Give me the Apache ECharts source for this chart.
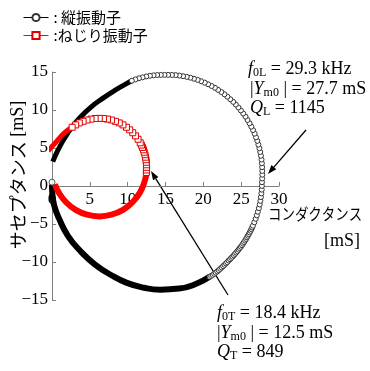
<!DOCTYPE html>
<html>
<head>
<meta charset="utf-8">
<script src="https://cdn.jsdelivr.net/npm/echarts@6/dist/echarts.min.js"></script>
<style>
  html, body { margin: 0; padding: 0; background: #fff; }
  #chart { width: 370px; height: 371px; }
</style>
</head>
<body>
<div id="chart"></div>
<script>
// Admittance loci (conductance G [mS], susceptance B [mS]) of two vibrators.

// Longitudinal vibrator: densely sampled stretches far from resonance
const longBandLow = [
  [0.00, 0.20], [0.05, -1.00], [0.30, -2.60], [0.95, -4.32], [2.10, -6.55],
  [3.75, -8.56], [5.65, -10.30], [7.80, -11.71], [9.90, -12.75], [12.15, -13.39],
  [14.30, -13.65], [16.80, -13.50], [19.00, -12.90], [20.83, -11.95]
];
// Longitudinal vibrator: sparse points around resonance
const longPoints = [
  [20.83, -11.95], [21.03, -11.83], [21.24, -11.70], [21.44, -11.55], [21.64, -11.40],
  [21.84, -11.24], [22.04, -11.08], [22.23, -10.90], [22.43, -10.72], [22.62, -10.55],
  [22.80, -10.37], [22.99, -10.19], [23.16, -10.02], [23.35, -9.81], [23.53, -9.64],
  [23.69, -9.47], [23.86, -9.30], [24.03, -9.12], [24.19, -8.93], [24.35, -8.75],
  [24.51, -8.56], [24.66, -8.37], [24.81, -8.18], [24.96, -7.99], [25.11, -7.79],
  [25.25, -7.59], [25.38, -7.38], [25.52, -7.18], [25.65, -6.97], [25.77, -6.76],
  [25.89, -6.55], [26.01, -6.34], [26.13, -6.12], [26.24, -5.90], [26.35, -5.68],
  [26.45, -5.46], [26.55, -5.23], [26.74, -4.78],
  [26.92, -4.32], [27.07, -3.86], [27.21, -3.39], [27.34, -2.91], [27.45, -2.43],
  [27.54, -1.95], [27.61, -1.46], [27.67, -0.97], [27.72, -0.48], [27.74, 0.01],
  [27.75, 0.50], [27.78, 0.99], [27.80, 1.49], [27.79, 1.98], [27.77, 2.48],
  [27.74, 2.99], [27.69, 3.48], [27.61, 3.98], [27.52, 4.48], [27.41, 4.97],
  [27.28, 5.45], [27.13, 5.94], [26.96, 6.41], [26.78, 6.89], [26.57, 7.35],
  [26.34, 7.81], [26.11, 8.26], [25.84, 8.69], [25.57, 9.13], [25.27, 9.54],
  [24.96, 9.94], [24.63, 10.33], [24.29, 10.72], [23.95, 11.07], [23.56, 11.42],
  [23.18, 11.75], [22.79, 12.07], [22.38, 12.37], [21.95, 12.65], [21.53, 12.92],
  [21.09, 13.16], [20.63, 13.39], [20.18, 13.60], [19.71, 13.79], [19.25, 13.96],
  [18.76, 14.11], [18.29, 14.25], [17.81, 14.36], [17.32, 14.45], [16.83, 14.53],
  [16.35, 14.59], [15.85, 14.61], [15.35, 14.62], [14.86, 14.62], [14.38, 14.61],
  [13.90, 14.60], [13.42, 14.56], [12.94, 14.50], [12.46, 14.41], [11.97, 14.30],
  [11.49, 14.17], [11.02, 14.02], [10.55, 13.85]
];
const longBandHigh = [
  [10.55, 13.85], [9.90, 13.50], [8.25, 12.55], [6.65, 11.50], [5.15, 10.38],
  [3.80, 9.10], [2.65, 7.75], [1.65, 6.28], [0.80, 4.74], [0.10, 3.20]
];
const longStart = [[0.00, 0.50]];

// Torsional vibrator
const torBandLow = [
  [0.38, 0.24], [0.84, -0.78], [1.83, -2.11], [3.13, -3.14], [4.63, -3.78],
  [6.25, -4.00], [7.87, -3.78], [9.38, -3.14], [10.67, -2.11], [11.66, -0.78],
  [12.29, 0.78], [12.47, 1.78]
];
const torPoints = [
  [12.47, 1.78], [12.49, 2.11], [12.50, 2.45], [12.49, 2.79], [12.47, 3.12],
  [12.42, 3.46], [12.36, 3.79], [12.29, 4.12], [12.19, 4.44], [12.09, 4.76],
  [11.96, 5.07], [11.82, 5.38], [11.66, 5.68], [11.37, 6.15], [11.04, 6.60],
  [10.67, 7.01], [10.27, 7.39], [9.84, 7.73], [9.38, 8.04], [8.89, 8.30],
  [8.39, 8.51], [7.87, 8.68], [7.34, 8.80], [6.80, 8.88], [6.25, 8.90],
  [5.70, 8.88], [5.16, 8.80], [4.63, 8.68], [4.11, 8.51], [3.61, 8.30],
  [3.13, 8.04], [2.66, 7.73]
];
const torBandHigh = [
  [2.66, 7.73], [1.90, 7.20], [1.20, 6.55], [0.55, 5.80], [0.00, 5.20], [-0.50, 4.60]
];

const seriesNames = ['縦振動子', 'ねじり振動子'];
const legendLabels = [': 縦振動子', ':ねじり振動子'];
const xTicks = [0, 5, 10, 15, 20, 25, 30];
const yTicks = [-15, -10, -5, 0, 5, 10, 15];

const SERIF = 'Liberation Serif';
const SANS = '"Noto Sans CJK JP", "Noto Sans", sans-serif';
const RED = '#ff0000';
const AXIS = '#808080';

const chart = echarts.init(document.getElementById('chart'), null, { renderer: 'canvas' });

function arrow(x1, y1, x2, y2) {
  const dx = x2 - x1, dy = y2 - y1, L = Math.hypot(dx, dy);
  const ux = dx / L, uy = dy / L, hl = 9, hw = 3.2;
  const bx = x2 - ux * hl, by = y2 - uy * hl;
  return [
    { type: 'line', shape: { x1: x1, y1: y1, x2: bx, y2: by }, style: { stroke: '#000', lineWidth: 1.3 } },
    { type: 'polygon', shape: { points: [[x2, y2], [bx - uy * hw, by + ux * hw], [bx + uy * hw, by - ux * hw]] },
      style: { fill: '#000' } }
  ];
}

const rich = {
  n: { fontFamily: SERIF, fontSize: 18, fill: '#000' },
  i: { fontFamily: SERIF, fontSize: 18, fontStyle: 'italic', fill: '#000' },
  s: { fontFamily: SERIF, fontSize: 12, fill: '#000', padding: [8, 0, 0, 0] }
};
function note(x, y, text) {
  return { type: 'text', x: x, y: y, z: 10, style: { text: text, rich: rich, verticalAlign: 'middle', align: 'left' } };
}

const tickFmt = v => String(v).replace('-', '\u2212');

chart.setOption({
  animation: false,
  grid: [
    { left: 52, right: 91, top: 72, bottom: 71 },
    // conductance axis drawn along B = 0
    { left: 52, right: 91, top: 72, bottom: 185 }
  ],
  legend: {
    data: seriesNames,
    orient: 'vertical',
    left: 18,
    top: 5,
    itemWidth: 25,
    itemHeight: 9,
    itemGap: 3,
    lineStyle: { width: 1 },
    textStyle: { fontFamily: SANS, fontSize: 15, color: '#000' },
    formatter: name => legendLabels[seriesNames.indexOf(name)]
  },
  xAxis: [
    { gridIndex: 0, type: 'value', min: 0, max: 30, interval: 5, show: false },
    { gridIndex: 1, type: 'value', min: 0, max: 30, interval: 5,
      axisLine: { onZero: false, lineStyle: { color: AXIS, width: 1 } },
      axisTick: { inside: true, length: 4, lineStyle: { color: AXIS } },
      splitLine: { show: false },
      axisLabel: { margin: 5, fontFamily: SERIF, fontSize: 17, color: '#000', formatter: tickFmt,
        customValues: xTicks } }
  ],
  yAxis: [
    { gridIndex: 0, type: 'value', min: -15, max: 15, interval: 5,
      axisLine: { onZero: false, lineStyle: { color: AXIS, width: 1 } },
      axisTick: { inside: true, length: 4, lineStyle: { color: AXIS } },
      splitLine: { show: false },
      axisLabel: { margin: 4, fontFamily: SERIF, fontSize: 17, color: '#000', formatter: tickFmt,
        customValues: yTicks } },
    { gridIndex: 1, type: 'value', min: 0, max: 1, show: false }
  ],
  series: [
    { type: 'line', data: longBandLow, smooth: true, showSymbol: false, silent: true, z: 2,
      lineStyle: { color: '#000', width: 6 } },
    { type: 'line', data: longBandHigh, smooth: true, showSymbol: false, silent: true, z: 2,
      lineStyle: { color: '#000', width: 5 } },
    { type: 'line', data: torBandLow, smooth: true, showSymbol: false, silent: true, z: 2,
      lineStyle: { color: RED, width: 6 } },
    { type: 'line', data: torBandHigh, smooth: true, showSymbol: false, silent: true, z: 2,
      lineStyle: { color: RED, width: 5 } },
    { name: seriesNames[0], type: 'line', data: longPoints, z: 3,
      symbol: 'circle', symbolSize: 5, showSymbol: true,
      itemStyle: { color: '#fff', borderColor: '#333', borderWidth: 1 },
      lineStyle: { color: '#000', width: 1 } },
    { name: seriesNames[1], type: 'line', data: torPoints, z: 4,
      symbol: 'rect', symbolSize: 6, showSymbol: true,
      itemStyle: { color: '#fff', borderColor: '#e00000', borderWidth: 1 },
      lineStyle: { color: RED, width: 1 } },
    { type: 'scatter', data: longStart, z: 5, symbol: 'circle', symbolSize: 6,
      itemStyle: { color: '#fff', borderColor: '#333', borderWidth: 1 } }
  ],
  graphic: [
    { type: 'text', x: 18, y: 175, rotation: Math.PI / 2,
      style: { text: '{j|サセプタンス}{r| [mS]}', align: 'center', verticalAlign: 'middle',
        rich: { j: { fontFamily: SANS, fontSize: 18, fill: '#000' },
                r: { fontFamily: SERIF, fontSize: 18, fill: '#000' } } } },
    { type: 'text', x: 268, y: 214, scaleX: 0.84,
      style: { text: 'コンダクタンス', fontFamily: SANS, fontSize: 16, fill: '#000', verticalAlign: 'middle' } },
    { type: 'text', x: 360, y: 241,
      style: { text: '[mS]', fontFamily: SERIF, fontSize: 18, fill: '#000', align: 'right', verticalAlign: 'middle' } },
    note(248, 69, '{i|f}{s|0L}{n| = 29.3 kHz}'),
    note(250, 89, '{n||}{i|Y}{s|m0}{n| | = 27.7 mS}'),
    note(250, 108, '{i|Q}{s|L}{n| = 1145}'),
    note(217, 313, '{i|f}{s|0T}{n| = 18.4 kHz}'),
    note(217, 333, '{n||}{i|Y}{s|m0}{n| | = 12.5 mS}'),
    note(217, 352, '{i|Q}{s|T}{n| = 849}'),
    ...arrow(306, 130, 268, 174),
    ...arrow(228, 295, 151, 171)
  ]
});
</script>
</body>
</html>
